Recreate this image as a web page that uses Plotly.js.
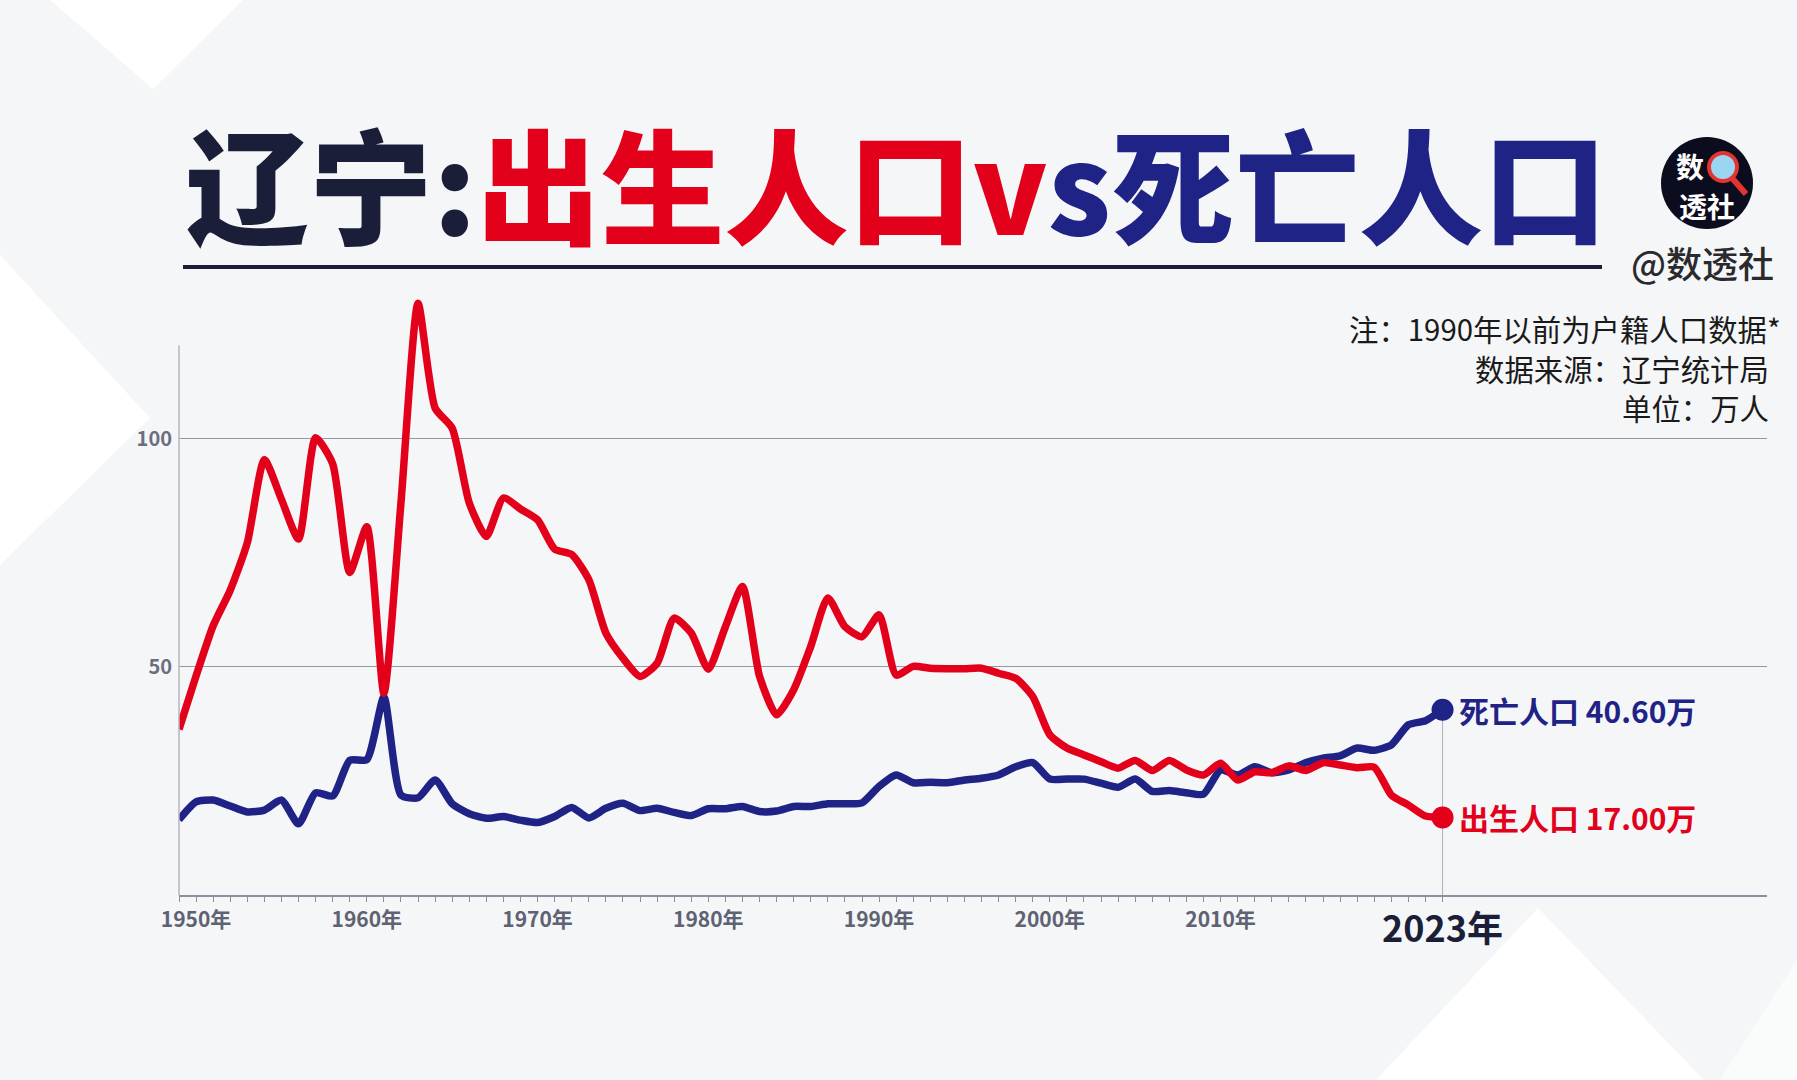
<!DOCTYPE html>
<html>
<head>
<meta charset="utf-8">
<script src="https://cdn.plot.ly/plotly-3.0.1.min.js"></script>
<style>
html,body{margin:0;padding:0;background:#f5f6f7;}
#chart{width:1797px;height:1080px;}
</style>
</head>
<body>
<div id="chart"></div>
<script>
// ---------- data (万人) ----------
const years = [];
for (let y = 1949; y <= 2023; y++) years.push(y);

const births = [
  36.3, 48.0, 59.0, 66.8, 77.2, 95.4, 86.7, 78.0, 100.2, 94.5,   // 1949-1958
  70.7, 80.7, 44.2, 86.0, 129.7, 106.7, 102.3, 85.9, 78.6, 87.0, // 1959-1968
  84.6, 82.2, 75.8, 74.6, 69.1, 57.4, 51.9, 47.9, 50.8, 60.7,    // 1969-1978
  57.4, 49.5, 58.8, 67.6, 47.9, 39.5, 45.0, 54.5, 65.1, 58.8,    // 1979-1988
  56.6, 61.4, 48.2, 50.1, 49.7, 49.6, 49.6, 49.7, 48.6, 47.5,    // 1989-1998
  43.5, 35.1, 32.2, 30.7, 29.2, 27.8, 29.5, 27.3, 29.5, 27.4,    // 1999-2008
  26.3, 28.9, 25.2, 27.0, 26.8, 28.3, 27.3, 29.0, 28.5, 27.9,    // 2009-2018
  28.0, 21.9, 19.7, 17.3, 17.0                                   // 2019-2023
];

const deaths = [
  16.5, 20.4, 20.8, 19.5, 18.2, 18.6, 20.8, 15.6, 22.4, 21.7,    // 1949-1958
  29.5, 29.7, 43.4, 21.9, 21.3, 25.2, 20.0, 17.8, 16.8, 17.2,    // 1959-1968
  16.4, 15.9, 17.2, 19.2, 16.9, 19.0, 20.1, 18.5, 19.0, 18.1,    // 1969-1978
  17.4, 18.9, 18.9, 19.4, 18.3, 18.4, 19.4, 19.4, 20.0, 20.0,    // 1979-1988
  20.2, 23.8, 26.3, 24.6, 24.7, 24.6, 25.2, 25.6, 26.3, 28.1,    // 1989-1998
  29.0, 25.4, 25.4, 25.4, 24.5, 23.6, 25.4, 22.7, 22.9, 22.4,    // 1999-2008
  22.1, 27.4, 26.3, 28.1, 26.8, 27.4, 29.0, 30.0, 30.5, 32.2,    // 2009-2018
  31.7, 32.9, 37.3, 38.2, 40.6                                   // 2019-2023
];

const xTickVals = [1950, 1960, 1970, 1980, 1990, 2000, 2010];
const xTickText = xTickVals.map(v => v + '年');
const yTickVals = [50, 100];
const yTickText = ['50', '100'];

const titleDark = '辽宁:';
const titleBirth = '出生人口v';
const titleDeath = 's死亡人口';
const birthName = '出生人口';
const deathName = '死亡人口';
const notes = ['注：1990年以前为户籍人口数据*', '数据来源：辽宁统计局', '单位：万人'];
const brand = '@数透社';

// ---------- style ----------
const RED = '#e3001b';
const BLUE = '#1f2386';
const DARK = '#1b1e38';
const FONT = '"Noto Sans CJK SC", "Noto Sans", sans-serif';

// page-pixel helpers for decorations (plot area: left 179, top 279, 1588 x 616)
const L = 179, T = 279, W = 1588, H = 616;
const px = x => (x - L) / W;
const py = y => (T + H - y) / H;

const lastYear = years[years.length - 1];
const lastBirth = births[births.length - 1];
const lastDeath = deaths[deaths.length - 1];

const traces = [
  {
    x: [lastYear, lastYear], y: [0, lastDeath], mode: 'lines',
    line: {color: '#aeb0b8', width: 1}, hoverinfo: 'skip', showlegend: false
  },
  {
    x: years, y: deaths, mode: 'lines', name: deathName,
    line: {color: BLUE, width: 7.5, shape: 'spline', smoothing: 0.6}, showlegend: false
  },
  {
    x: years, y: births, mode: 'lines', name: birthName,
    line: {color: RED, width: 7.5, shape: 'spline', smoothing: 0.6}, showlegend: false
  },
  {
    x: [lastYear], y: [lastDeath], mode: 'markers',
    marker: {color: BLUE, size: 22}, showlegend: false, cliponaxis: false
  },
  {
    x: [lastYear], y: [lastBirth], mode: 'markers',
    marker: {color: RED, size: 22}, showlegend: false, cliponaxis: false
  }
];

const noLine = {width: 0};
const shapes = [
  // background decorations
  {type: 'path', xref: 'paper', yref: 'paper', layer: 'below', line: noLine, fillcolor: '#ffffff',
   path: `M ${px(50)} ${py(0)} L ${px(243)} ${py(0)} L ${px(153)} ${py(89)} Z`},
  {type: 'path', xref: 'paper', yref: 'paper', layer: 'below', line: noLine, fillcolor: '#ffffff',
   path: `M ${px(0)} ${py(255)} L ${px(150)} ${py(418)} L ${px(0)} ${py(565)} Z`},
  {type: 'path', xref: 'paper', yref: 'paper', layer: 'below', line: noLine, fillcolor: '#ffffff',
   path: `M ${px(1538)} ${py(908)} L ${px(1704)} ${py(1080)} L ${px(1376)} ${py(1080)} Z`},
  {type: 'path', xref: 'paper', yref: 'paper', layer: 'below', line: noLine, fillcolor: '#fafbfb',
   path: `M ${px(1797)} ${py(960)} L ${px(1797)} ${py(1080)} L ${px(1720)} ${py(1080)} Z`},
  // y axis line (partial height)
  {type: 'line', xref: 'paper', yref: 'y', x0: 0, x1: 0, y0: 0, y1: 120.4,
   line: {color: '#b3b6c0', width: 1.5}},
  // title underline
  {type: 'line', xref: 'paper', yref: 'paper', x0: px(183), x1: px(1602), y0: py(267), y1: py(267),
   line: {color: DARK, width: 4}},
  // logo disc
  {type: 'circle', xref: 'paper', yref: 'paper', x0: px(1661), x1: px(1753), y0: py(229), y1: py(137),
   fillcolor: '#0b0c1d', line: noLine},
  // magnifier handle and lens
  {type: 'line', xref: 'paper', yref: 'paper', x0: px(1732), y0: py(178), x1: px(1746), y1: py(194),
   line: {color: '#e3342f', width: 6}},
  {type: 'circle', xref: 'paper', yref: 'paper', x0: px(1709), x1: px(1737), y0: py(181), y1: py(153),
   fillcolor: '#9ad6f2', line: {color: '#e3342f', width: 4}}
];

const mid = {xanchor: 'center', yanchor: 'middle', showarrow: false};
const annotations = [
  // logo text
  Object.assign({xref: 'paper', yref: 'paper', x: px(1690), y: py(166), text: '<b>数</b>',
   font: {family: FONT, size: 28, color: '#ffffff', weight: 900}}, mid),
  Object.assign({xref: 'paper', yref: 'paper', x: px(1707), y: py(206), text: '<b>透社</b>',
   font: {family: FONT, size: 28, color: '#ffffff', weight: 900}}, mid),
  // brand
  Object.assign({xref: 'paper', yref: 'paper', x: px(1702), y: py(262), text: brand,
   font: {family: FONT, size: 36, color: '#2a2a2e', weight: 500}}, mid),
  // notes
  {xref: 'paper', yref: 'paper', x: px(1783), y: py(328), xanchor: 'right', yanchor: 'middle',
   text: notes[0], showarrow: false, font: {family: FONT, size: 29.4, color: '#1a1a1a'}},
  {xref: 'paper', yref: 'paper', x: px(1771), y: py(368), xanchor: 'right', yanchor: 'middle',
   text: notes[1], showarrow: false, font: {family: FONT, size: 29.4, color: '#1a1a1a'}},
  {xref: 'paper', yref: 'paper', x: px(1771), y: py(407), xanchor: 'right', yanchor: 'middle',
   text: notes[2], showarrow: false, font: {family: FONT, size: 29.4, color: '#1a1a1a'}},
  // end labels
  {x: lastYear, y: lastDeath, xanchor: 'left', yanchor: 'middle', xshift: 14, showarrow: false,
   text: '<b>' + deathName + ' ' + lastDeath.toFixed(2) + '万</b>',
   font: {family: FONT, size: 30, color: BLUE, weight: 700}},
  {x: lastYear, y: lastBirth, xanchor: 'left', yanchor: 'middle', xshift: 14, showarrow: false,
   text: '<b>' + birthName + ' ' + lastBirth.toFixed(2) + '万</b>',
   font: {family: FONT, size: 30, color: RED, weight: 700}},
  // last-year axis label
  {x: lastYear, y: 0, xanchor: 'center', yanchor: 'top', yshift: -3, showarrow: false,
   text: '<b>' + lastYear + '年</b>', font: {family: FONT, size: 36, color: DARK, weight: 700}}
];

const layout = {
  width: 1797, height: 1080,
  paper_bgcolor: '#f5f6f7', plot_bgcolor: 'rgba(0,0,0,0)',
  margin: {l: L, r: 1797 - L - W, t: T, b: 1080 - T - H, pad: 0},
  showlegend: false,
  title: {
    text: '<span style="color:' + DARK + '">' + titleDark + '</span>' +
          '<span style="color:' + RED + '">' + titleBirth + '</span>' +
          '<span style="color:' + BLUE + '">' + titleDeath + '</span>',
    xref: 'container', yref: 'container', x: 185 / 1797, xanchor: 'left',
    y: 1 - 192 / 1080, yanchor: 'middle',
    font: {family: FONT, size: 124, weight: 900, color: DARK}
  },
  xaxis: {
    range: [1949, 2042], showgrid: false, zeroline: false,
    showline: true, linecolor: '#8c8fa0', linewidth: 1.5,
    tickmode: 'array', tickvals: xTickVals, ticktext: xTickText,
    ticks: 'outside', ticklen: 5, tickwidth: 1, tickcolor: '#8c8fa0',
    minor: {tickmode: 'array', tickvals: years, ticks: 'outside', ticklen: 5, tickwidth: 1, tickcolor: '#8c8fa0', showgrid: false},
    tickfont: {family: FONT, size: 21, color: '#5f6273', weight: 600},
    fixedrange: true
  },
  yaxis: {
    range: [0, 135], showline: false, zeroline: false,
    tickmode: 'array', tickvals: yTickVals, ticktext: yTickText,
    showgrid: true, gridcolor: '#9497aa', gridwidth: 1.2,
    ticks: '', ticklabelstandoff: 6,
    tickfont: {family: FONT, size: 20, color: '#6b6e80', weight: 700},
    fixedrange: true
  },
  shapes: shapes,
  annotations: annotations
};

Plotly.newPlot('chart', traces, layout, {displayModeBar: false, staticPlot: true});
</script>
</body>
</html>
